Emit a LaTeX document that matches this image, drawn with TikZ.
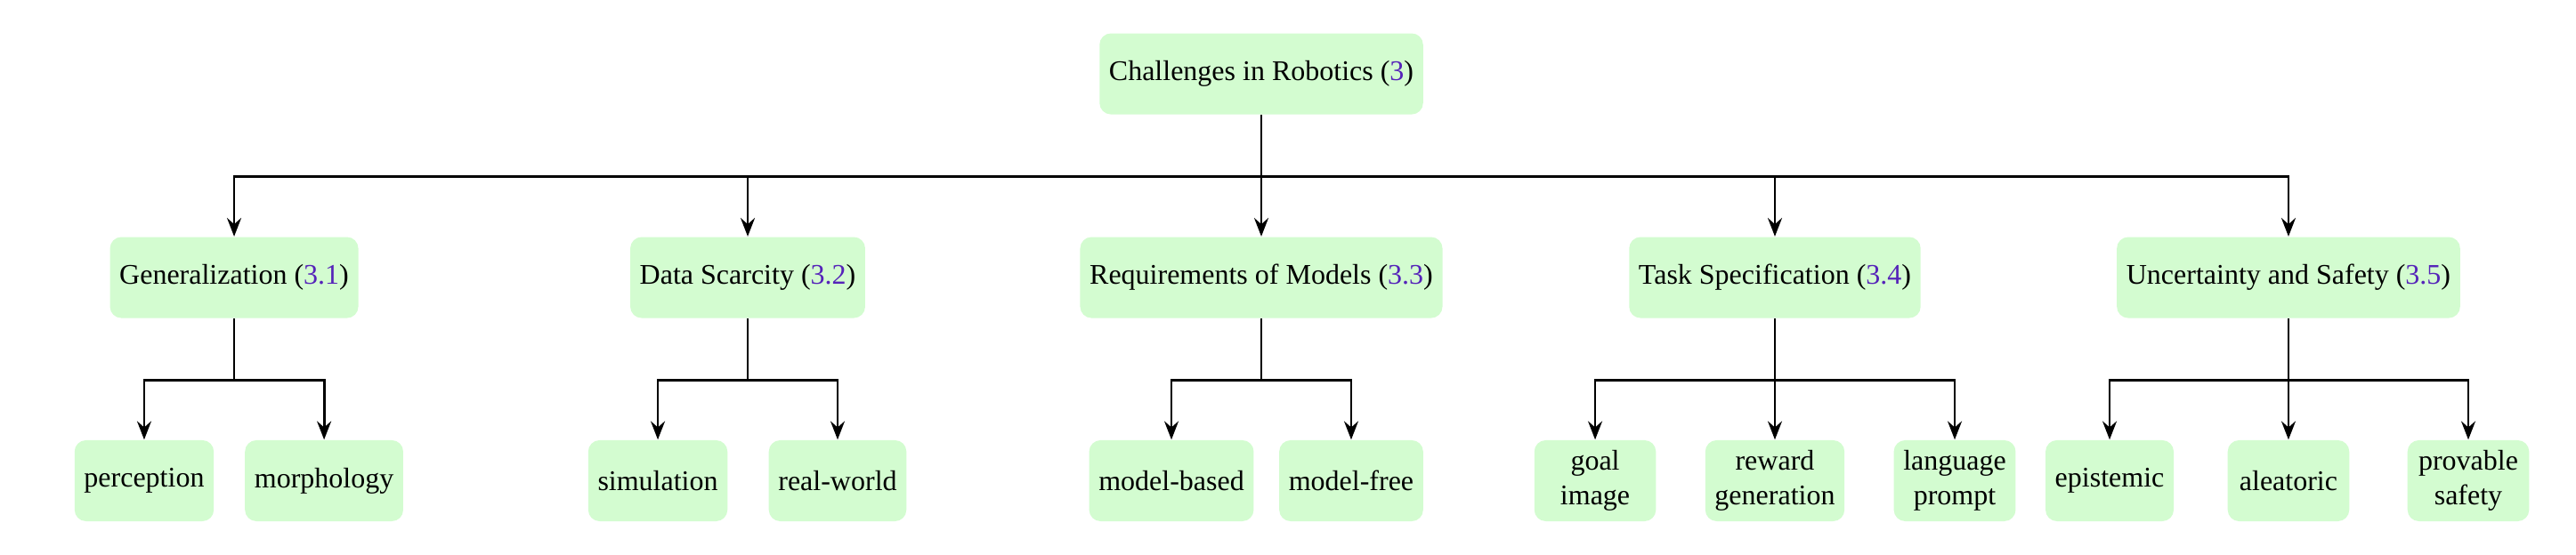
\documentclass[tikz,border=0pt]{standalone}
\usepackage{fontspec}
\setmainfont{Liberation Serif}
\usetikzlibrary{arrows.meta}
\definecolor{boxgreen}{RGB}{211,252,208}
\definecolor{refblue}{RGB}{85,35,185}
\newcommand{\secref}[1]{(\textcolor{refblue}{#1})}
\begin{document}
\begin{tikzpicture}[
    topic/.style={fill=boxgreen, rounded corners=4pt, minimum height=1cm},
    leaf/.style={topic, minimum width=1.5cm, align=center},
    link/.style={line width=0.9pt, -{Stealth[length=6.5pt, width=5pt, inset=2.2pt]}}
  ]
      \useasboundingbox (0,0) rectangle (31.785,-6.853);
      \node[topic] (root) at (15.563,-0.912) {Challenges in Robotics \secref{3}};
      \node[topic] (gen) at (2.889,-3.427) {Generalization \secref{3.1}};
      \node[topic] (data) at (9.226,-3.427) {Data Scarcity \secref{3.2}};
      \node[topic] (req) at (15.563,-3.427) {Requirements of Models \secref{3.3}};
      \node[topic] (task) at (21.900,-3.427) {Task Specification \secref{3.4}};
      \node[topic] (unc) at (28.237,-3.427) {Uncertainty and Safety \secref{3.5}};
      \node[leaf] (perc) at (1.779,-5.936) {perception};
      \node[leaf] (morph) at (3.999,-5.936) {morphology};
      \node[leaf] (sim) at (8.117,-5.936) {simulation};
      \node[leaf] (real) at (10.335,-5.936) {real-world};
      \node[leaf] (mbased) at (14.454,-5.936) {model-based};
      \node[leaf] (mfree) at (16.672,-5.936) {model-free};
      \node[leaf] (goal) at (19.682,-5.936) {goal\\image};
      \node[leaf] (reward) at (21.900,-5.936) {reward\\generation};
      \node[leaf] (lang) at (24.119,-5.936) {language\\prompt};
      \node[leaf] (epi) at (26.030,-5.936) {epistemic};
      \node[leaf] (alea) at (28.237,-5.936) {aleatoric};
      \node[leaf] (prov) at (30.456,-5.936) {provable\\safety};
      \draw[link] (root.south) -- ++(0,-0.758) -| (gen.north);
      \draw[link] (root.south) -- ++(0,-0.758) -| (data.north);
      \draw[link] (root.south) -- (req.north);
      \draw[link] (root.south) -- ++(0,-0.758) -| (task.north);
      \draw[link] (root.south) -- ++(0,-0.758) -| (unc.north);
      \draw[link] (gen.south) -- ++(0,-0.758) -| (perc.north);
      \draw[link] (gen.south) -- ++(0,-0.758) -| (morph.north);
      \draw[link] (data.south) -- ++(0,-0.758) -| (sim.north);
      \draw[link] (data.south) -- ++(0,-0.758) -| (real.north);
      \draw[link] (req.south) -- ++(0,-0.758) -| (mbased.north);
      \draw[link] (req.south) -- ++(0,-0.758) -| (mfree.north);
      \draw[link] (task.south) -- ++(0,-0.758) -| (goal.north);
      \draw[link] (task.south) -- (reward.north);
      \draw[link] (task.south) -- ++(0,-0.758) -| (lang.north);
      \draw[link] (unc.south) -- ++(0,-0.758) -| (epi.north);
      \draw[link] (unc.south) -- (alea.north);
      \draw[link] (unc.south) -- ++(0,-0.758) -| (prov.north);
\end{tikzpicture}
\end{document}
